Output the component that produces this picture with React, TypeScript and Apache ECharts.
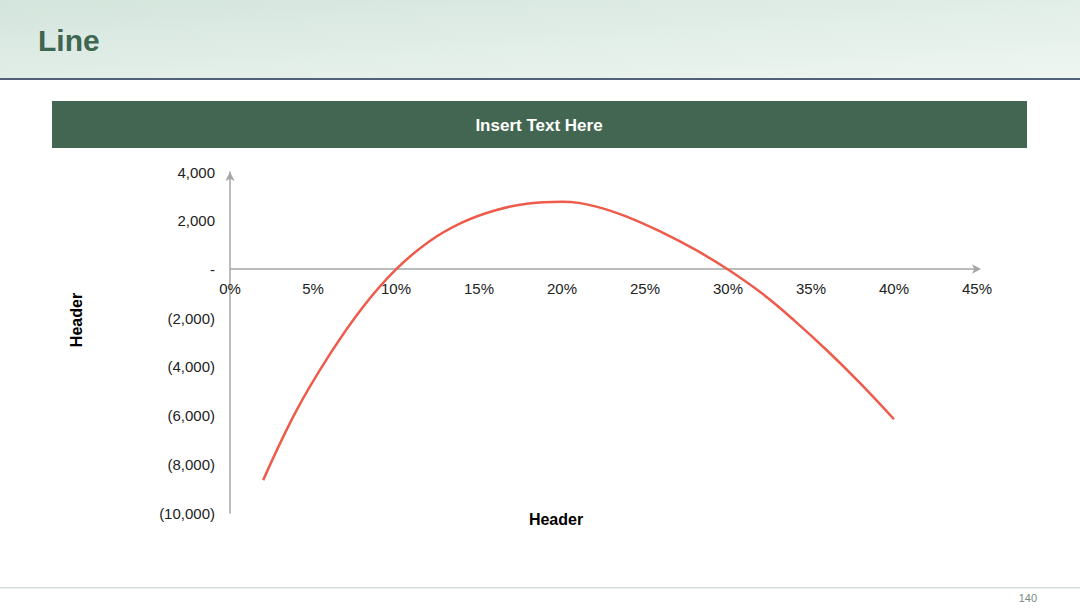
import { useRef, useEffect } from "react";
import * as echarts from "echarts";

// x 值为百分比（小数），y 值
const xValues = [0.02, 0.04, 0.06, 0.08, 0.1, 0.12, 0.14, 0.16, 0.18, 0.2, 0.22, 0.24, 0.26, 0.28, 0.3, 0.32, 0.34, 0.36, 0.38, 0.4];
const yValues = [-8650, -5800, -3500, -1550, 0, 1150, 1930, 2430, 2710, 2780, 2590, 2140, 1530, 820, 0, -960, -2100, -3350, -4700, -6150];

const pageTitle = "Line";
const bannerText = "Insert Text Here";
const xAxisTitle = "Header";
const yAxisTitle = "Header";
const pageNumber = "140";

const FONT = "'Liberation Sans', Arial, sans-serif";

function formatY(v: number) {
    if (v === 0) return "-";
    const s = Math.abs(v).toLocaleString("en-US");
    return v < 0 ? `(${s})` : s;
}

function App() {
    const chartRef = useRef<HTMLDivElement | null>(null);

    useEffect(() => {
        if (!chartRef.current) return;
        const chart = echarts.init(chartRef.current, undefined, { renderer: "svg" });

        chart.setOption({
            animation: false,
            textStyle: { fontFamily: FONT },
            grid: { left: 230, right: 103, top: 172, bottom: 95, containLabel: false },
            xAxis: {
                type: "value",
                min: 0,
                max: 0.45,
                interval: 0.05,
                position: "bottom",
                // 把横轴（连同标签）移到 y = 0 处
                offset: -244,
                axisLine: {
                    onZero: false,
                    symbol: ["none", "arrow"],
                    symbolSize: [7, 9],
                    symbolOffset: [0, 4],
                    lineStyle: { color: "#a6a6a6", width: 1.5 },
                },
                axisTick: { show: false },
                splitLine: { show: false },
                axisLabel: {
                    margin: 12,
                    color: "#222",
                    fontSize: 15,
                    formatter: (v: number) => `${Math.round(v * 100)}%`,
                },
            },
            yAxis: {
                type: "value",
                min: -10000,
                max: 4000,
                interval: 2000,
                axisLine: {
                    show: true,
                    onZero: false,
                    symbol: ["none", "arrow"],
                    symbolSize: [7, 9],
                    lineStyle: { color: "#a6a6a6", width: 1.5 },
                },
                axisTick: { show: false },
                splitLine: { show: false },
                axisLabel: {
                    margin: 15,
                    color: "#222",
                    fontSize: 15,
                    formatter: formatY,
                },
            },
            series: [
                {
                    type: "line",
                    data: xValues.map((x, i) => [x, yValues[i]]),
                    smooth: 0.4,
                    showSymbol: false,
                    lineStyle: { color: "#ee5b4b", width: 2.5 },
                },
            ],
            graphic: [
                {
                    type: "rect",
                    shape: { x: 0, y: 0, width: 1080, height: 78 },
                    style: {
                        fill: new echarts.graphic.LinearGradient(0, 0, 1, 1, [
                            { offset: 0, color: "#d3e5dc" },
                            { offset: 1, color: "#eff6f2" },
                        ]),
                    },
                    silent: true,
                },
                {
                    type: "rect",
                    shape: { x: 0, y: 78, width: 1080, height: 2 },
                    style: { fill: "#52607a" },
                    silent: true,
                },
                {
                    type: "text",
                    x: 38,
                    y: 40,
                    style: {
                        text: pageTitle,
                        font: `bold 30px ${FONT}`,
                        fill: "#3f6650",
                        verticalAlign: "middle",
                    },
                },
                {
                    type: "rect",
                    shape: { x: 52, y: 101, width: 975, height: 47 },
                    style: { fill: "#426651" },
                    silent: true,
                },
                {
                    type: "text",
                    x: 539,
                    y: 125,
                    style: {
                        text: bannerText,
                        font: `bold 17px ${FONT}`,
                        fill: "#ffffff",
                        align: "center",
                        verticalAlign: "middle",
                    },
                },
                {
                    type: "text",
                    x: 556,
                    y: 519,
                    style: {
                        text: xAxisTitle,
                        font: `bold 16px ${FONT}`,
                        fill: "#000",
                        align: "center",
                        verticalAlign: "middle",
                    },
                },
                {
                    type: "text",
                    x: 76,
                    y: 320,
                    rotation: Math.PI / 2,
                    style: {
                        text: yAxisTitle,
                        font: `bold 16px ${FONT}`,
                        fill: "#000",
                        align: "center",
                        verticalAlign: "middle",
                    },
                },
                {
                    type: "rect",
                    shape: { x: 0, y: 587, width: 1080, height: 1.5 },
                    style: { fill: "#d3e0db" },
                    silent: true,
                },
                {
                    type: "text",
                    x: 1037,
                    y: 598,
                    style: {
                        text: pageNumber,
                        font: `11px ${FONT}`,
                        fill: "#7a8a84",
                        align: "right",
                        verticalAlign: "middle",
                    },
                },
            ],
        });

        return () => {
            chart.dispose();
        };
    }, []);

    return (
        <div
            ref={chartRef}
            style={{
                position: "absolute",
                left: 0,
                top: 0,
                width: "1080px",
                height: "608px",
                background: "#fff",
            }}
        />
    );
}

export default App;
